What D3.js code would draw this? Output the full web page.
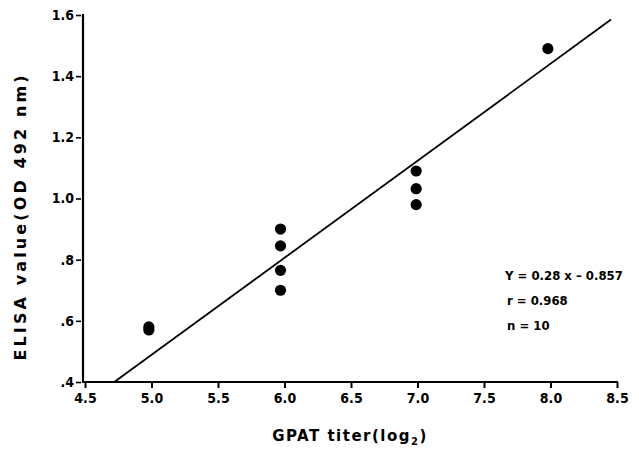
<!DOCTYPE html>
<html><head><meta charset="utf-8">
<script src="https://cdn.jsdelivr.net/npm/d3@7"></script>
<style>
body{margin:0;background:#fff;}
text{fill:#000;}
</style></head>
<body><svg id="c" width="639" height="452"></svg>
<script>
const xTicks = [4.5, 5.0, 5.5, 6.0, 6.5, 7.0, 7.5, 8.0, 8.5];
const yTicks = [0.4, 0.6, 0.8, 1.0, 1.2, 1.4, 1.6];
const yTickLabels = [".4", ".6", ".8", "1.0", "1.2", "1.4", "1.6"];
const pointX = [4.98, 4.98, 5.97, 5.97, 5.97, 5.97, 6.99, 6.99, 6.99, 7.98];
const pointY = [0.58, 0.57, 0.90, 0.845, 0.765, 0.70, 1.09, 1.032, 0.98, 1.49];
const lineX = [4.72, 8.455];
const lineY = [0.4, 1.585];
const annot = ["Y = 0.28 x \u2013 0.857", "r = 0.968", "n = 10"];

const svg = d3.select("#c");
const x = d3.scaleLinear().domain([4.5, 8.5]).range([85, 617]);
const y = d3.scaleLinear().domain([0.4, 1.6]).range([382, 15]);
const tickFont = "'DejaVu Sans Condensed','Liberation Sans Narrow',sans-serif";

const xa = svg.append("g").attr("transform", "translate(0,382)")
  .call(d3.axisBottom(x).tickValues(xTicks).tickFormat(d3.format(".1f")).tickSize(6).tickPadding(5).tickSizeOuter(0));
xa.select(".domain").attr("stroke", "#000").attr("stroke-width", 2.2).attr("d", "M83,0H618");
xa.selectAll(".tick line").attr("stroke-width", 2);
xa.selectAll(".tick text").attr("font-family", tickFont).attr("font-weight", "bold").attr("font-size", 14).attr("fill", "#000");

const ya = svg.append("g").attr("transform", "translate(83,0)")
  .call(d3.axisLeft(y).tickValues(yTicks).tickFormat((d, i) => yTickLabels[i]).tickSize(5).tickPadding(4).tickSizeOuter(0));
ya.select(".domain").attr("stroke", "#000").attr("stroke-width", 2.2).attr("d", "M0,14V383");
ya.selectAll(".tick line").attr("stroke-width", 1.6).attr("transform", "translate(-2,0)");
ya.selectAll(".tick text").attr("font-family", tickFont).attr("font-weight", "bold").attr("font-size", 14).attr("fill", "#000");

// regression line
svg.append("line")
  .attr("x1", x(lineX[0])).attr("y1", y(lineY[0]))
  .attr("x2", x(lineX[1])).attr("y2", y(lineY[1]))
  .attr("stroke", "#000").attr("stroke-width", 1.8);

// points
svg.append("g").selectAll("circle").data(pointX.map((d, i) => [d, pointY[i]]))
  .join("circle").attr("cx", d => x(d[0])).attr("cy", d => y(d[1])).attr("r", 5.6).attr("fill", "#000");

// annotation
svg.append("g").selectAll("text").data(annot).join("text")
  .attr("x", (d, i) => i === 0 ? 505 : 507).attr("y", (d, i) => 280 + i * 25)
  .attr("font-family", tickFont).attr("font-weight", "bold").attr("font-size", 13)
  .text(d => d);

// axis titles
const xt = svg.append("text").attr("x", 350).attr("y", 441).attr("text-anchor", "middle")
  .attr("font-family", "'DejaVu Sans',sans-serif").attr("font-weight", "bold").attr("font-size", 15)
  .attr("letter-spacing", 1.5);
xt.append("tspan").text("GPAT titer(log");
xt.append("tspan").attr("font-size", 10).attr("dy", 4).text("2");
xt.append("tspan").attr("dy", -4).text(")");

svg.append("text").attr("transform", "translate(26,218) rotate(-90)").attr("text-anchor", "middle")
  .attr("font-family", "'DejaVu Sans',sans-serif").attr("font-weight", "bold").attr("font-size", 16)
  .attr("textLength", 285).attr("lengthAdjust", "spacing")
  .text("ELISA value(OD 492 nm)");
</script></body></html>
